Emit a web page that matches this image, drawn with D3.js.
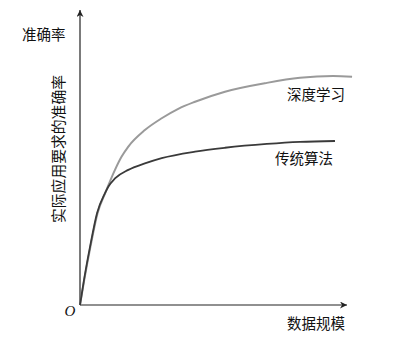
<!DOCTYPE html>
<html><head><meta charset="utf-8">
<script src="https://cdn.jsdelivr.net/npm/d3@7"></script>
<style>body{margin:0;background:#fff;}svg{display:block;}</style>
</head><body>
<script>
const traditionalX = [0, 1.5, 3.75, 6.4, 9.4, 10.6, 13.1, 18.1, 24.3, 30.6, 43.1, 54.3, 70, 82.4, 95.5];
const traditionalY = [0, 8.5, 19.7, 31.2, 38, 40.1, 42.9, 45.8, 48.0, 49.8, 52.0, 53.3, 54.6, 55.3, 55.6];
const deepX = [0, 1.6, 3.9, 6.6, 9.6, 13.1, 15.6, 18.1, 24.3, 30.6, 36.8, 43.1, 54.3, 70, 82.4, 94.8, 101.9];
const deepY = [0, 8.5, 19.7, 31.2, 38.3, 45.8, 50.3, 53.7, 59.3, 63.3, 66.5, 68.9, 72.3, 75.3, 77, 77.6, 77.4];
const seriesLabels = ["深度学习", "传统算法"];
const axisLabels = {x: "数据规模", y: "准确率", yRot: "实际应用要求的准确率", origin: "O"};

const W = 419, H = 339;
const svg = d3.select("body").append("svg").attr("width", W).attr("height", H);
const x = d3.scaleLinear().domain([0, 100]).range([80, 347]);
const y = d3.scaleLinear().domain([0, 100]).range([305, 10]);

const defs = svg.append("defs");
defs.append("marker").attr("id", "arr").attr("viewBox", "0 0 10 10")
  .attr("refX", 10).attr("refY", 5).attr("markerWidth", 10).attr("markerHeight", 7)
  .attr("markerUnits", "userSpaceOnUse").attr("orient", "auto")
  .append("path").attr("d", "M0,0 L10,5 L0,10 L3,5 Z").attr("fill", "#222");

// axes
svg.append("line").attr("x1", x(0)).attr("y1", y(0)).attr("x2", x(0)).attr("y2", y(100))
  .attr("stroke", "#222").attr("stroke-width", 1.2).attr("marker-end", "url(#arr)");
svg.append("line").attr("x1", x(0)).attr("y1", y(0)).attr("x2", x(100)).attr("y2", y(0))
  .attr("stroke", "#222").attr("stroke-width", 1.2).attr("marker-end", "url(#arr)");

const line = d3.line().x(d => x(d[0])).y(d => y(d[1])).curve(d3.curveMonotoneX);
svg.append("path").datum(deepX.map((v, i) => [v, deepY[i]])).attr("d", line)
  .attr("fill", "none").attr("stroke", "#9a9a9a").attr("stroke-width", 2);
svg.append("path").datum(traditionalX.map((v, i) => [v, traditionalY[i]])).attr("d", line)
  .attr("fill", "none").attr("stroke", "#3a3a3a").attr("stroke-width", 1.8);

const font = "'Noto Sans CJK SC', sans-serif";
function txt(t, px, py, size, anchor) {
  return svg.append("text").attr("x", px).attr("y", py).attr("font-family", font)
    .attr("font-size", size).attr("fill", "#111").attr("text-anchor", anchor || "start")
    .attr("dominant-baseline", "central").text(t);
}
txt(seriesLabels[0], 287, 93, 14.5);
txt(seriesLabels[1], 275, 157, 14.5);
txt(axisLabels.x, 287, 322, 14.5);
txt(axisLabels.y, 22, 33, 14.5);
svg.append("text").attr("transform", "translate(57,149) rotate(-90)")
  .attr("font-family", font).attr("font-size", 14.8).attr("fill", "#111")
  .attr("text-anchor", "middle").attr("dominant-baseline", "central").text(axisLabels.yRot);
svg.append("text").attr("x", 70).attr("y", 311).attr("font-family", "'Liberation Serif', serif")
  .attr("font-style", "italic").attr("font-size", 15).attr("fill", "#111")
  .attr("text-anchor", "middle").attr("dominant-baseline", "central").text(axisLabels.origin);
</script>
</body></html>
